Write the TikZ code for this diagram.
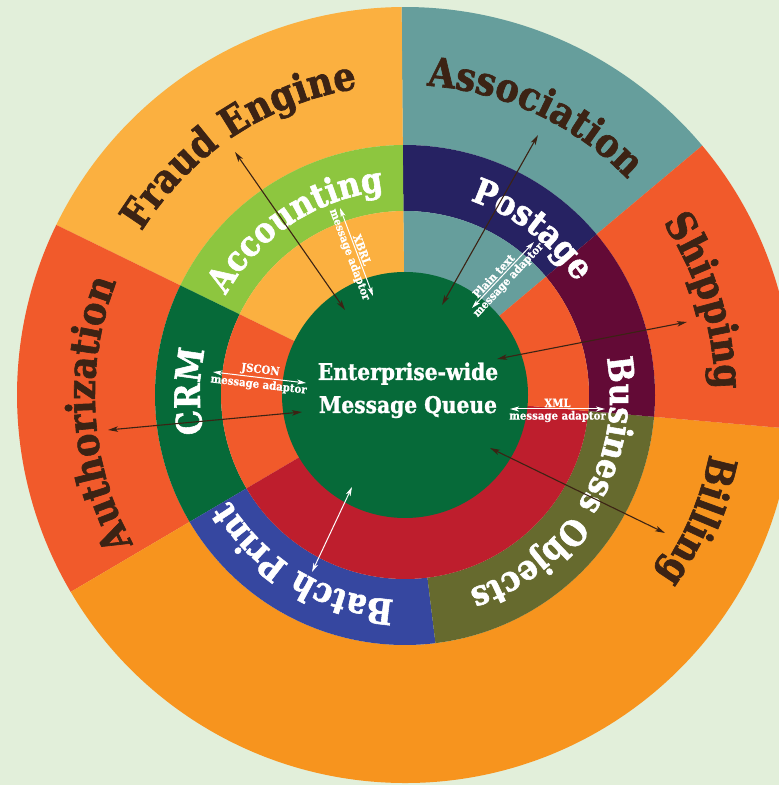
\documentclass[tikz,border=0pt]{standalone}
\usepackage{fontspec}
\usetikzlibrary{decorations.text,arrows.meta}
\newfontfamily\heavy[FakeStretch=0.88,FakeBold=1.6]{DejaVu Serif}
\newfontfamily\heavymid[FakeStretch=0.88,FakeBold=1.1]{DejaVu Serif}
\newfontfamily\heavysmall[FakeStretch=0.9,FakeBold=0.6]{DejaVu Serif}
\definecolor{bg}{HTML}{E2EFDA}
\definecolor{fraudc}{HTML}{FBB040}
\definecolor{assocc}{HTML}{669E9C}
\definecolor{redor}{HTML}{F15A2B}
\definecolor{orangec}{HTML}{F7941E}
\definecolor{redc}{HTML}{BE1E2D}
\definecolor{acctc}{HTML}{8DC63F}
\definecolor{navyc}{HTML}{262262}
\definecolor{maroonc}{HTML}{630A36}
\definecolor{olivec}{HTML}{666A2E}
\definecolor{bluec}{HTML}{3647A0}
\definecolor{dgreen}{HTML}{066A39}
\definecolor{txtbrown}{HTML}{3C2314}
\newcommand\annsector[5]{\fill[#1] (#2:#4) arc[start angle=#2, end angle=#3, radius=#4] -- (#3:#5) arc[start angle=#3, end angle=#2, radius=#5] -- cycle;}
\newcommand\arctext[4]{\path[#1={#4}] ({#2+75}:#3) arc[start angle={#2+75}, end angle={#2-75}, radius=#3];}
\tikzset{
  outertext/.style={decorate, decoration={text along path, text align=center, text color=txtbrown,
     text={|\heavy\bfseries\fontsize{40}{40}\selectfont|#1}}},
  midtext/.style={decorate, decoration={text along path, text align=center, text color=white,
     text={|\heavy\bfseries\fontsize{35}{35}\selectfont|#1}}},
  centertext/.style={anchor=base, text=white, inner sep=0pt, font=\heavymid\bfseries\fontsize{23}{23}\selectfont},
  lbl/.style={text=white, inner sep=1.5pt, font=\heavysmall\bfseries\fontsize{11.3}{12}\selectfont},
  darkarrow/.style={draw=txtbrown, line width=1.1pt, arrows={Stealth[length=10pt,width=5.5pt,inset=2.5pt]-Stealth[length=10pt,width=5.5pt,inset=2.5pt]}},
  whitearrow/.style={draw=white, line width=1pt, arrows={Stealth[length=9pt,width=5pt,inset=2.5pt]-Stealth[length=9pt,width=5pt,inset=2.5pt]}},
}
\begin{document}
\begin{tikzpicture}[x=1pt,y=1pt]
\useasboundingbox (0,0) rectangle (779,785);
\fill[bg] (0,0) rectangle (779,785);
\clip (0,0) rectangle (779,785);
\begin{scope}[shift={(405,390)}]
  % outer ring
  \annsector{assocc}{40}{90.5}{250}{388}
  \annsector{fraudc}{90.5}{154}{250}{388}
  \annsector{redor}{154}{210.5}{250}{388}
  \annsector{orangec}{210.5}{355}{250}{388}
  \annsector{redor}{-5}{40}{250}{388}
  % middle ring
  \annsector{navyc}{40}{90.5}{184}{250}
  \annsector{acctc}{90.5}{154}{184}{250}
  \annsector{dgreen}{154}{210.5}{184}{250}
  \annsector{bluec}{210.5}{277}{184}{250}
  \annsector{olivec}{277}{355}{184}{250}
  \annsector{maroonc}{-5}{40}{184}{250}
  % inner ring
  \annsector{assocc}{40}{90.5}{122}{184}
  \annsector{fraudc}{90.5}{154}{122}{184}
  \annsector{redor}{154}{210.5}{122}{184}
  \annsector{redc}{210.5}{355}{122}{184}
  \annsector{redor}{-5}{40}{122}{184}
  % centre
  \fill[dgreen] (0,0) circle[radius=123];
  % outer texts
  \arctext{outertext}{123.5}{310}{Fraud Engine}
  \arctext{outertext}{65}{310}{Association}
  \arctext{outertext}{17.4}{310}{Shipping}
  \arctext{outertext}{-23.3}{310}{Billing}
  \arctext{outertext}{183.6}{310}{Authorization}
  % middle texts
  \arctext{midtext}{123.4}{205}{Accounting}
  \arctext{midtext}{52.4}{205}{Postage}
  \arctext{midtext}{-30.7}{205}{Business Objects}
  \arctext{midtext}{239}{205}{Batch Print}
  \arctext{midtext}{179}{205}{CRM}
\end{scope}
% centre text
\node[centertext] (mq1) at (408,405) {Enterprise-wide};
\node[centertext] (mq2) at (408,372) {Message Queue};
% connector end points
\coordinate (fe1) at (235,633); \coordinate (fe2) at (345,475);
\coordinate (xb1) at (340,577); \coordinate (xb2) at (373,489);
\coordinate (as1) at (538,650); \coordinate (as2) at (442,480);
\coordinate (pt1) at (472,477); \coordinate (pt2) at (534,543);
\coordinate (sh1) at (687,463); \coordinate (sh2) at (497,426);
\coordinate (xm1) at (510,376); \coordinate (xm2) at (605,376);
\coordinate (bi1) at (490,337); \coordinate (bi2) at (665,252);
\coordinate (bp1) at (352,298); \coordinate (bp2) at (312,213);
\coordinate (au1) at (108,355); \coordinate (au2) at (302,373);
\coordinate (js1) at (213,413); \coordinate (js2) at (306,402);
% dark connectors
\draw[darkarrow] (fe1) -- (fe2);
\draw[darkarrow] (as1) -- (as2);
\draw[darkarrow] (sh1) -- (sh2);
\draw[darkarrow] (bi1) -- (bi2);
\draw[darkarrow] (au1) -- (au2);
% white adaptor connectors
\draw[whitearrow] (xb1) -- node[lbl, sloped, above] (xbrl) {XBRL} node[lbl, sloped, below] (xbrlma) {message adaptor} (xb2);
\draw[whitearrow] (pt1) -- node[lbl, sloped, above, pos=0.42] (ptxt) {Plain text} node[lbl, sloped, below] (ptma) {message adaptor} (pt2);
\draw[whitearrow] (xm1) -- node[lbl, above] (xml) {XML} node[lbl, below] (xmlma) {message adaptor} (xm2);
\draw[whitearrow] (js1) -- node[lbl, sloped, above] (jscon) {JSCON} node[lbl, sloped, below] (jsma) {message adaptor} (js2);
\draw[whitearrow] (bp1) -- (bp2);
\end{tikzpicture}
\end{document}
